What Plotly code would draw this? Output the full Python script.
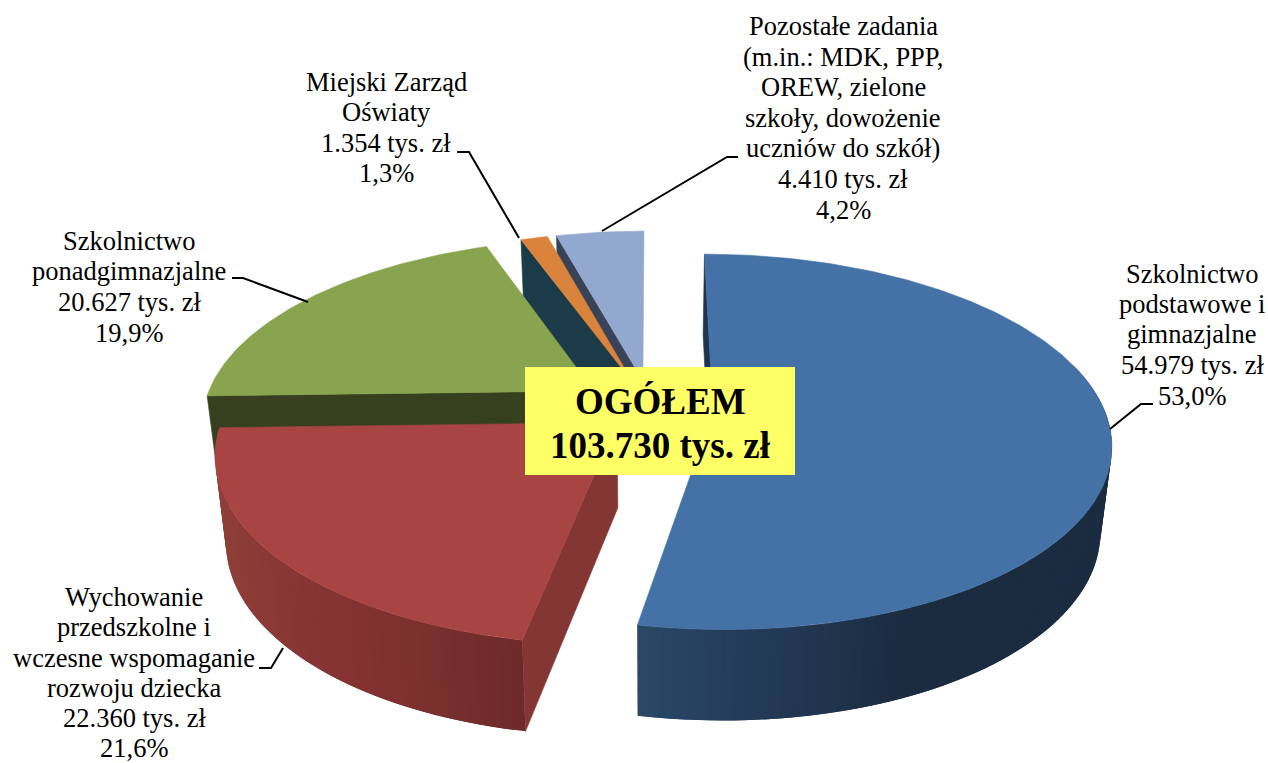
import math
import plotly.graph_objects as go

# --- data ---
names = ["Szkolnictwo podstawowe i gimnazjalne", "Wychowanie przedszkolne i wczesne wspomaganie rozwoju dziecka",
         "Szkolnictwo ponadgimnazjalne", "Miejski Zarząd Oświaty", "Pozostałe zadania"]
values = [54979, 22360, 20627, 1354, 4410]
explode = [0.159, 0.113, 0.18, 0.16, 0.16]
top_colors = ["#4472a6", "#a84543", "#89a44e", "#d9833c", "#93a8cf"]
label_lines = [
    ["Szkolnictwo", "podstawowe i", "gimnazjalne", "54.979 tys. zł", "53,0%"],
    ["Wychowanie", "przedszkolne i", "wczesne wspomaganie", "rozwoju dziecka", "22.360 tys. zł", "21,6%"],
    ["Szkolnictwo", "ponadgimnazjalne", "20.627 tys. zł", "19,9%"],
    ["Miejski Zarząd", "Oświaty", "1.354 tys. zł", "1,3%"],
    ["Pozostałe zadania", "(m.in.: MDK, PPP,", "OREW, zielone", "szkoły, dowożenie", "uczniów do szkół)", "4.410 tys. zł", "4,2%"],
]
label_x = [1192, 134, 129, 386, 843]
label_y = [
    [274, 304, 334, 365, 396],
    [597, 627, 658, 688, 718, 748],
    [241, 271, 302, 333],
    [82, 112, 143, 173],
    [26, 57, 87, 118, 148, 179, 210],
]
leaders = [
    ([1110, 1141, 1153], [429, 404, 404]),
    ([259, 271, 283], [668, 668, 648]),
    ([232, 243, 308], [278, 278, 302]),
    ([457, 469, 519], [152, 152, 238]),
    ([738, 727, 602], [157, 157, 231]),
]
total_text = ["OGÓŁEM", "103.730 tys. zł"]

# --- projection of the 3-D pie ---
CX, CY, RX, RY, K = 651, 409, 391, 182, 0.16
BX, BY0, BYS = 0.975, 494, 1.027


def top(X, Y):
    p = 1 / (1 - Y * K)
    return CX + RX * X * p, CY + RY * Y * p


def bottom(X, Y):
    x, y = top(X, Y)
    return CX + BX * (x - CX), BY0 + BYS * (y - CY)


def mix(c1, c2, t):
    a = [int(c1[i:i + 2], 16) for i in (1, 3, 5)]
    b = [int(c2[i:i + 2], 16) for i in (1, 3, 5)]
    return "#%02x%02x%02x" % tuple(round(u + (v - u) * t) for u, v in zip(a, b))


def grad(stops, t):
    if t <= stops[0][0]:
        return stops[0][1]
    for (t0, c0), (t1, c1) in zip(stops, stops[1:]):
        if t <= t1:
            return mix(c0, c1, (t - t0) / (t1 - t0))
    return stops[-1][1]


fig = go.Figure()


def poly(pts, color, lw=0.6):
    xs = [p[0] for p in pts] + [pts[0][0]]
    ys = [p[1] for p in pts] + [pts[0][1]]
    fig.add_trace(go.Scatter(x=xs, y=ys, mode="lines", fill="toself", fillcolor=color,
                             line=dict(color=color, width=lw), hoverinfo="skip", showlegend=False))


total = sum(values)
spans = []
a = 0.0
for v in values:
    spans.append((a, a + v / total * 360))
    a = spans[-1][1]


def geom(i):
    a0, a1 = spans[i]
    m = math.radians((a0 + a1) / 2)
    e = explode[i]
    ox, oy = e * math.sin(m), -e * math.cos(m)

    def rim(deg):
        r = math.radians(deg)
        return ox + math.sin(r), oy - math.cos(r)
    return a0, a1, (ox, oy), rim


def cut_wall(i, deg, color):
    a0, a1, o, rim = geom(i)
    r = rim(deg)
    poly([top(r[0], r[1]), top(*o), bottom(*o), bottom(r[0], r[1])], color)


def outer_wall(i, stops):
    a0, a1, o, rim = geom(i)
    steps = max(2, int((a1 - a0) / 1.5))
    for s in range(steps):
        d0 = a0 + (a1 - a0) * s / steps
        d1 = a0 + (a1 - a0) * (s + 1) / steps
        if math.cos(math.radians((d0 + d1) / 2)) > 0.25:
            continue
        p0, p1 = rim(d0), rim(d1)
        # each strip reaches over its neighbour so no seam shows between them
        p2 = rim(min(a1, d1 + (d1 - d0)))
        poly([top(*p0), top(*p1), top(*p2), bottom(*p2), bottom(*p1), bottom(*p0)], grad(stops, (d0 + d1) / 2), lw=0)


def top_face(i):
    a0, a1, o, rim = geom(i)
    n = max(6, int(a1 - a0))
    pts = [top(*o)] + [top(*rim(a0 + (a1 - a0) * s / n)) for s in range(n + 1)]
    poly(pts, top_colors[i])


# back to front
cut_wall(4, spans[4][0], "#394357")
top_face(4)
cut_wall(3, spans[3][0], "#1a3b47")
top_face(3)
cut_wall(2, spans[2][0], "#36401e")
top_face(2)
cut_wall(0, spans[0][0], "#1f3450")
outer_wall(0, [(157, "#1b2c41"), (177, "#243b58"), (191, "#2a4868")])
top_face(0)
cut_wall(1, spans[1][0], "#843635")
outer_wall(1, [(191, "#6c2a29"), (203, "#7a302e"), (219, "#863333"), (246, "#8e3e38")])
top_face(1)

for (lx, ly) in leaders:
    fig.add_trace(go.Scatter(x=lx, y=ly, mode="lines", line=dict(color="black", width=2),
                             hoverinfo="skip", showlegend=False))

annotations = []
for lines, x, ys in zip(label_lines, label_x, label_y):
    for t, y in zip(lines, ys):
        annotations.append(dict(x=x, y=y, text=t, showarrow=False, xanchor="center", yanchor="middle",
                                font=dict(family="Liberation Serif", size=26.5, color="black")))
for t, y in zip(total_text, [401, 445]):
    annotations.append(dict(x=660, y=y, text="<b>%s</b>" % t, showarrow=False, xanchor="center", yanchor="middle",
                            font=dict(family="Liberation Serif", size=37, color="black")))

fig.update_layout(
    width=1268, height=763, margin=dict(l=0, r=0, t=0, b=0),
    paper_bgcolor="white", plot_bgcolor="white", showlegend=False,
    xaxis=dict(range=[0, 1268], visible=False, fixedrange=True),
    yaxis=dict(range=[763, 0], visible=False, fixedrange=True),
    shapes=[dict(type="rect", x0=525, x1=795, y0=367, y1=475, fillcolor="#ffff66",
                 line=dict(width=0), layer="above")],
    annotations=annotations,
)
fig.write_html("out.html", post_script="document.body.style.margin='0';", config={"displayModeBar": False})
